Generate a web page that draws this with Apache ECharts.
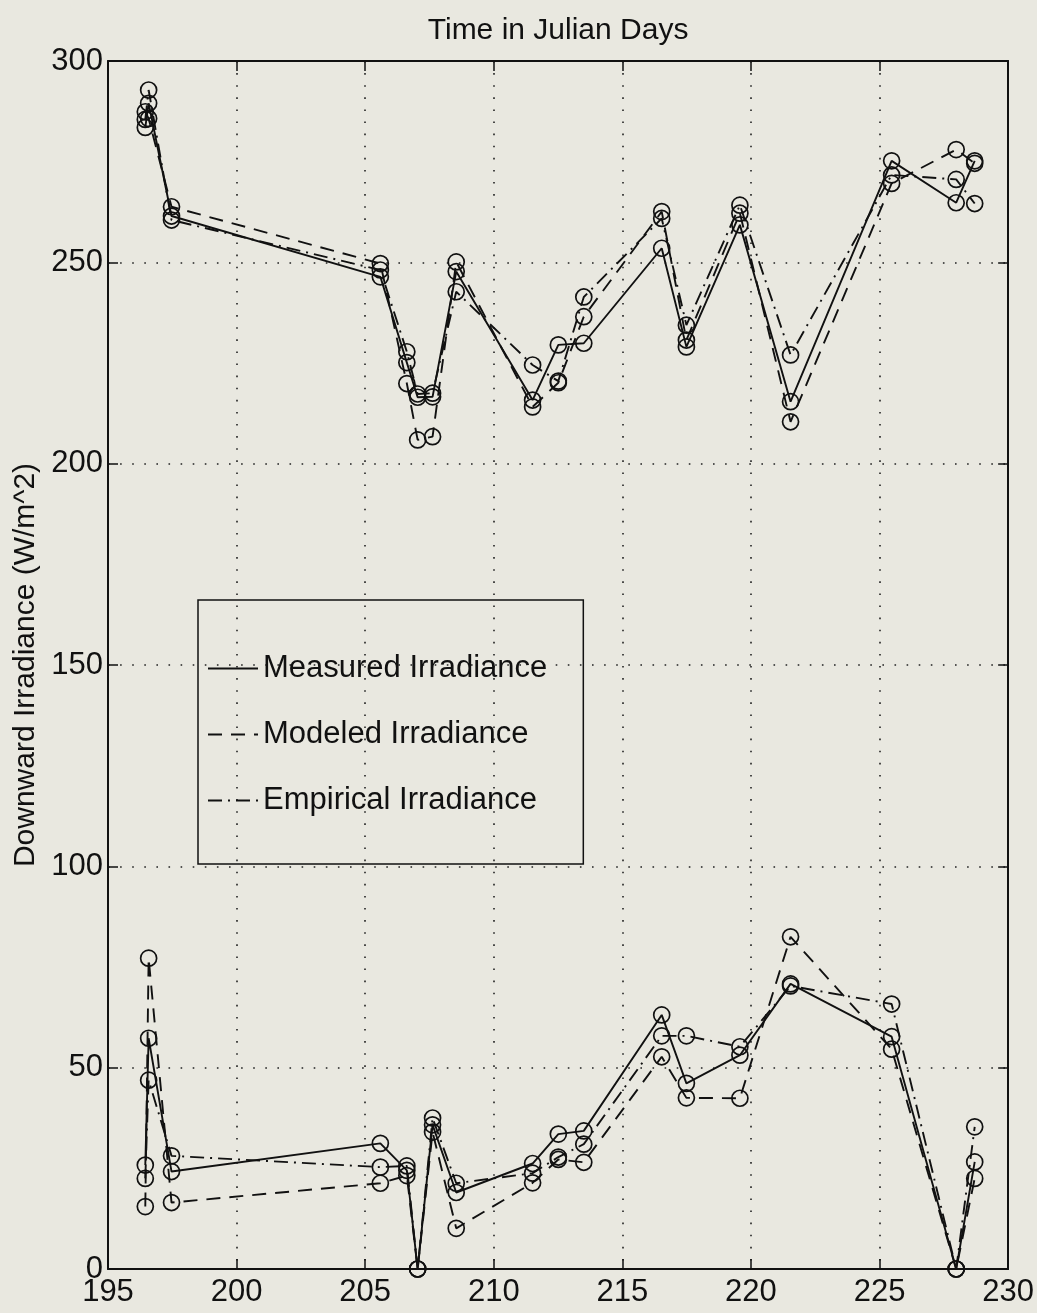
<!DOCTYPE html>
<html>
<head>
<meta charset="utf-8">
<script src="https://cdn.jsdelivr.net/npm/echarts@6/dist/echarts.min.js"></script>
<style>
  html, body { margin: 0; padding: 0; background: #e9e8e0; }
  #chart { width: 1037px; height: 1313px; }
</style>
</head>
<body>
<div id="chart"></div>
<script>
// Sample times (Julian day)
const days = [196.45, 196.58, 197.47, 205.59, 206.62, 207.04, 207.62, 208.54, 211.51,
              212.51, 213.50, 216.53, 217.49, 219.57, 221.54, 225.47, 227.98, 228.70];

// Upper set of irradiance curves (W/m^2)
const measuredUpper  = [283.5, 289.5, 261.5, 246.4, 225.1, 216.5, 216.6, 247.7, 215.8,
                        229.5, 229.9, 253.5, 229.0, 259.3, 215.4, 275.2, 264.8, 275.2];
const modeledUpper   = [287.4, 285.7, 263.8, 249.7, 219.9, 205.9, 206.7, 250.1, 214.1,
                        220.1, 236.5, 262.6, 230.7, 262.2, 210.4, 269.6, 278.0, 274.6];
const empiricalUpper = [285.5, 292.8, 260.5, 248.1, 227.8, 217.3, 217.5, 242.7, 224.5,
                        220.5, 241.4, 260.9, 234.4, 264.2, 227.0, 271.7, 270.6, 264.6];

// Lower set of irradiance curves (W/m^2)
const measuredLower  = [25.8, 57.3, 24.2, 31.2, 24.5, 0, 35.8, 19.0, 26.2,
                        33.5, 34.3, 63.1, 46.1, 53.1, 70.8, 57.7, 0, 26.6];
const modeledLower   = [15.5, 77.2, 16.5, 21.3, 23.2, 0, 34.0, 10.1, 21.4,
                        27.2, 26.5, 52.7, 42.5, 42.4, 82.5, 54.6, 0, 22.5];
const empiricalLower = [22.5, 46.9, 28.1, 25.3, 25.6, 0, 37.5, 21.3, 23.8,
                        27.8, 31.0, 57.9, 57.9, 55.2, 70.3, 65.8, 0, 35.3];

const xTicks = { min: 195, max: 230, step: 5 };
const yTicks = { min: 0, max: 300, step: 50 };

const FONT = '"Liberation Sans", Arial, Helvetica, sans-serif';
const INK = '#111';

const styles = {
  'Measured Irradiance':  'solid',
  'Modeled Irradiance':   [14, 9],
  'Empirical Irradiance': [14, 6, 2, 6]
};

function pairs(vals) {
  return days.map((d, i) => [d, vals[i]]);
}

function makeSeries(name, vals) {
  return {
    name: name,
    type: 'line',
    data: pairs(vals),
    symbol: 'circle',
    symbolSize: 16,
    showSymbol: true,
    animation: false,
    itemStyle: { color: 'rgba(0,0,0,0)', borderColor: INK, borderWidth: 1.7 },
    lineStyle: { color: INK, width: 1.9, type: styles[name] },
    emphasis: { disabled: true }
  };
}

const series = [
  makeSeries('Measured Irradiance', measuredUpper),
  makeSeries('Modeled Irradiance', modeledUpper),
  makeSeries('Empirical Irradiance', empiricalUpper),
  makeSeries('Measured Irradiance', measuredLower),
  makeSeries('Modeled Irradiance', modeledLower),
  makeSeries('Empirical Irradiance', empiricalLower)
];

const axisLine = { show: true, onZero: false, lineStyle: { color: INK, width: 2 } };
const tickIn = { show: true, inside: true, length: 10, lineStyle: { color: INK, width: 1.5 } };
const gridDots = { show: true, lineStyle: { color: '#222', width: 1.6, type: [1.6, 10.5] } };

const chart = echarts.init(document.getElementById('chart'), null, { renderer: 'canvas' });
chart.setOption({
  backgroundColor: '#e9e8e0',
  animation: false,
  grid: { left: 108, right: 28, top: 61, bottom: 44, containLabel: false },
  legend: {
    orient: 'vertical',
    left: 198,
    top: 600,
    data: ['Measured Irradiance', 'Modeled Irradiance', 'Empirical Irradiance'],
    padding: [53, 36, 48, 9],
    itemGap: 35,
    itemWidth: 50,
    itemHeight: 20,
    borderColor: INK,
    borderWidth: 1.5,
    borderRadius: 0,
    backgroundColor: 'transparent',
    itemStyle: { opacity: 0 },
    selectedMode: false,
    textStyle: { fontFamily: FONT, fontSize: 31, color: INK, lineHeight: 31 }
  },
  xAxis: [
    {
      type: 'value', position: 'bottom',
      min: xTicks.min, max: xTicks.max, interval: xTicks.step,
      axisLine: axisLine, axisTick: tickIn,
      axisLabel: { fontFamily: FONT, fontSize: 31, color: INK, margin: 8 },
      splitLine: gridDots
    },
    {
      type: 'value', position: 'top',
      min: xTicks.min, max: xTicks.max, interval: xTicks.step,
      name: 'Time in Julian Days', nameLocation: 'middle', nameGap: 15,
      nameTextStyle: { fontFamily: FONT, fontSize: 30, color: INK },
      axisLine: axisLine, axisTick: tickIn,
      axisLabel: { show: false }, splitLine: { show: false }
    }
  ],
  yAxis: [
    {
      type: 'value', position: 'left',
      min: yTicks.min, max: yTicks.max, interval: yTicks.step,
      name: 'Downward Irradiance (W/m^2)', nameLocation: 'middle', nameGap: 66,
      nameTextStyle: { fontFamily: FONT, fontSize: 30, color: INK },
      axisLine: axisLine, axisTick: tickIn,
      axisLabel: { fontFamily: FONT, fontSize: 31, color: INK, margin: 5 },
      splitLine: gridDots
    },
    {
      type: 'value', position: 'right',
      min: yTicks.min, max: yTicks.max, interval: yTicks.step,
      axisLine: axisLine, axisTick: tickIn,
      axisLabel: { show: false }, splitLine: { show: false }
    }
  ],
  series: series
});
</script>
</body>
</html>
